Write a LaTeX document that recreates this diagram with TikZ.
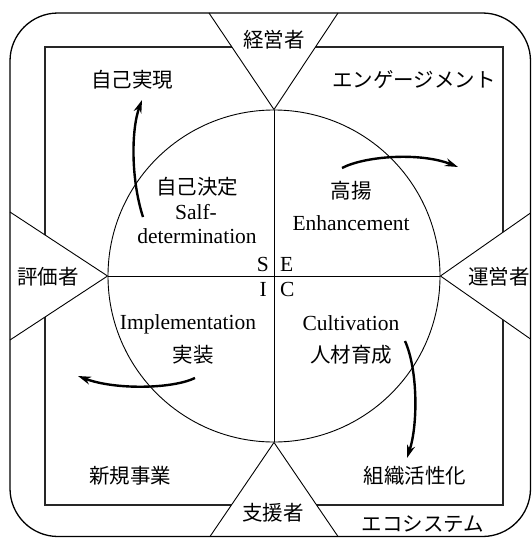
\documentclass[tikz,border=0pt]{standalone}
\usepackage{fontspec}
\setmainfont{Liberation Serif}
\newfontfamily\jp{Noto Sans CJK JP}
\usetikzlibrary{arrows.meta}
\begin{document}
\begin{tikzpicture}[x=1pt,y=-1pt,
  jlabel/.style={font=\jp\fontsize{20.5}{24}\selectfont, inner sep=0pt},
  elabel/.style={font=\fontsize{21.5}{25}\selectfont, inner sep=0pt, anchor=base},
  flow/.style={line width=2.4pt, -{Stealth[length=13pt,width=8pt]}},
  sideline/.style={draw=black, line width=0.9pt},
]
\useasboundingbox (0,0) rectangle (531,538);
% inner square
\draw[line width=1.6pt, draw=black!85] (45,47) rectangle (503,505);
% circle and cross
\node[circle, draw, line width=0.9pt, minimum size=332pt, inner sep=0pt] (circ) at (274,276) {};
\draw[sideline] (circ.north) -- (circ.south);
\draw[sideline] (circ.west) -- (circ.east);
% border points of the four wedges
\coordinate (tA) at (209,13);    \coordinate (tB) at (338,13);
\coordinate (bA) at (210,536.5); \coordinate (bB) at (338,536.5);
\coordinate (lA) at (10,212);    \coordinate (lB) at (10,340);
\coordinate (rA) at (530.5,213); \coordinate (rB) at (530.5,339);
\fill[white] (tA) -- (circ.north) -- (tB) -- cycle;
\fill[white] (bA) -- (circ.south) -- (bB) -- cycle;
\fill[white] (lA) -- (circ.west) -- (lB) -- cycle;
\fill[white] (rA) -- (circ.east) -- (rB) -- cycle;
\draw[sideline] (tA) -- (circ.north) -- (tB);
\draw[sideline] (bA) -- (circ.south) -- (bB);
\draw[sideline] (lA) -- (circ.west) -- (lB);
\draw[sideline] (rA) -- (circ.east) -- (rB);
% outer rounded frame
\draw[line width=1.3pt, rounded corners=48pt] (10,13) rectangle (530.5,536.5);
% role labels
\node[jlabel] (keiei) at (274,40) {経営者};
\node[jlabel] (hyoka) at (48,277) {評価者};
\node[jlabel] (unei) at (499,277) {運営者};
\node[jlabel] (shien) at (273,513) {支援者};
% corner labels
\node[jlabel] (jiko) at (132,80) {自己実現};
\node[jlabel] (engage) at (414,80) {エンゲージメント};
\node[jlabel] (shinki) at (130,476) {新規事業};
\node[jlabel] (soshiki) at (415,476) {組織活性化};
\node[jlabel] (eco) at (423,524) {エコシステム};
% quadrant labels
\node[jlabel] (kettei) at (197,187) {自己決定};
\node[elabel] (salf) at (196,219) {Salf-};
\node[elabel] (determ) at (197,243) {determination};
\node[jlabel] (koyo) at (351,191) {高揚};
\node[elabel] (enh) at (351,230) {Enhancement};
\node[elabel] (impl) at (188,329) {Implementation};
\node[jlabel] (jisso) at (193,355) {実装};
\node[elabel] (cult) at (351,330) {Cultivation};
\node[jlabel] (jinzai) at (351,355) {人材育成};
\node[elabel, anchor=base east] (ls) at (269,271) {S};
\node[elabel, anchor=base west] (le) at (280,271) {E};
\node[elabel, anchor=base east] (li) at (267,296) {I};
\node[elabel, anchor=base west] (lc) at (280,296) {C};
% flow arrows
\coordinate (a1s) at (143,217); \coordinate (a1e) at (142,100);
\coordinate (a2s) at (342,168); \coordinate (a2e) at (458,167);
\coordinate (a3s) at (195,378); \coordinate (a3e) at (78,376);
\coordinate (a4s) at (405,341); \coordinate (a4e) at (407,458);
\draw[flow] (a1s) .. controls (131,180) and (131,130) .. (a1e);
\draw[flow] (a2s) .. controls (365,156) and (420,152) .. (a2e);
\draw[flow] (a3s) .. controls (172,389) and (115,390) .. (a3e);
\draw[flow] (a4s) .. controls (418,370) and (418,425) .. (a4e);
\end{tikzpicture}
\end{document}
